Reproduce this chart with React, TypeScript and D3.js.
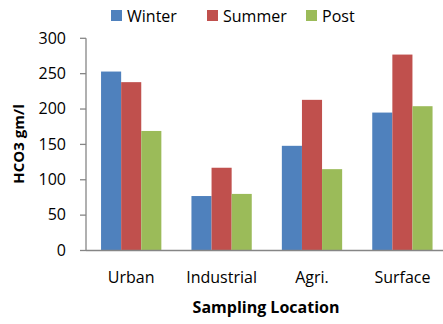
import React from "react";
import * as d3 from "d3";

const categories = ["Urban", "Industrial", "Agri.", "Surface"];
const seriesNames = ["Winter", "Summer", "Post"];
const winter = [253, 77, 148, 195];
const summer = [238, 117, 213, 277];
const post = [169, 80, 115, 204];
const yTicks = [0, 50, 100, 150, 200, 250, 300];
const colors = ["#4F81BD", "#C0504D", "#9BBB59"];

const FONT = "'Open Sans', sans-serif";

export default function App() {
  const W = 443, H = 324;
  const left = 86, bottom = 250.5, top = 38.3;
  const series = [winter, summer, post];
  const x = d3.scaleBand<string>().domain(categories).range([left, left + 4 * 90.4]).padding(0);
  const y = d3.scaleLinear().domain([0, 300]).range([bottom, top]);
  const bw = 20.1;
  const axisColor = "#868686";
  const legendX = [111, 207, 306];
  return (
    <svg width={W} height={H} style={{ position: "absolute", left: 0, top: 0, background: "#fff" }}>
      {categories.map((c, i) => {
        const x0 = (x(c) as number) + (x.bandwidth() - bw * 3) / 2;
        return series.map((s, j) => (
          <rect key={c + j} x={x0 + j * bw} y={y(s[i])} width={bw} height={bottom - y(s[i])} fill={colors[j]} />
        ));
      })}
      <line x1={left} x2={left} y1={top} y2={bottom} stroke={axisColor} strokeWidth={1.3} />
      {yTicks.map((t) => (
        <g key={t}>
          <line x1={left - 6} x2={left} y1={y(t)} y2={y(t)} stroke={axisColor} strokeWidth={1.3} />
          <text x={66} y={y(t)} dy="0.33em" textAnchor="end" fontFamily={FONT} fontSize={16} fill="#000">
            {t}
          </text>
        </g>
      ))}
      <line x1={left} x2={W} y1={bottom} y2={bottom} stroke={axisColor} strokeWidth={1.3} />
      {categories.map((c) => (
        <text key={c} x={(x(c) as number) + x.bandwidth() / 2} y={283} textAnchor="middle" fontFamily={FONT} fontSize={16} fill="#000">
          {c}
        </text>
      ))}
      <text x={266} y={313} textAnchor="middle" fontFamily={FONT} fontSize={16} fontWeight="bold" fill="#000">
        Sampling Location
      </text>
      <text transform="translate(24,144) rotate(-90)" textAnchor="middle" fontFamily={FONT} fontSize={15} fontWeight="bold" fill="#000">
        HCO3 gm/l
      </text>
      {seriesNames.map((n, j) => (
        <g key={n}>
          <rect x={legendX[j]} y={10} width={11} height={11} fill={colors[j]} />
          <text x={legendX[j] + 16} y={16} dy="0.36em" fontFamily={FONT} fontSize={16} fill="#000">
            {n}
          </text>
        </g>
      ))}
    </svg>
  );
}
